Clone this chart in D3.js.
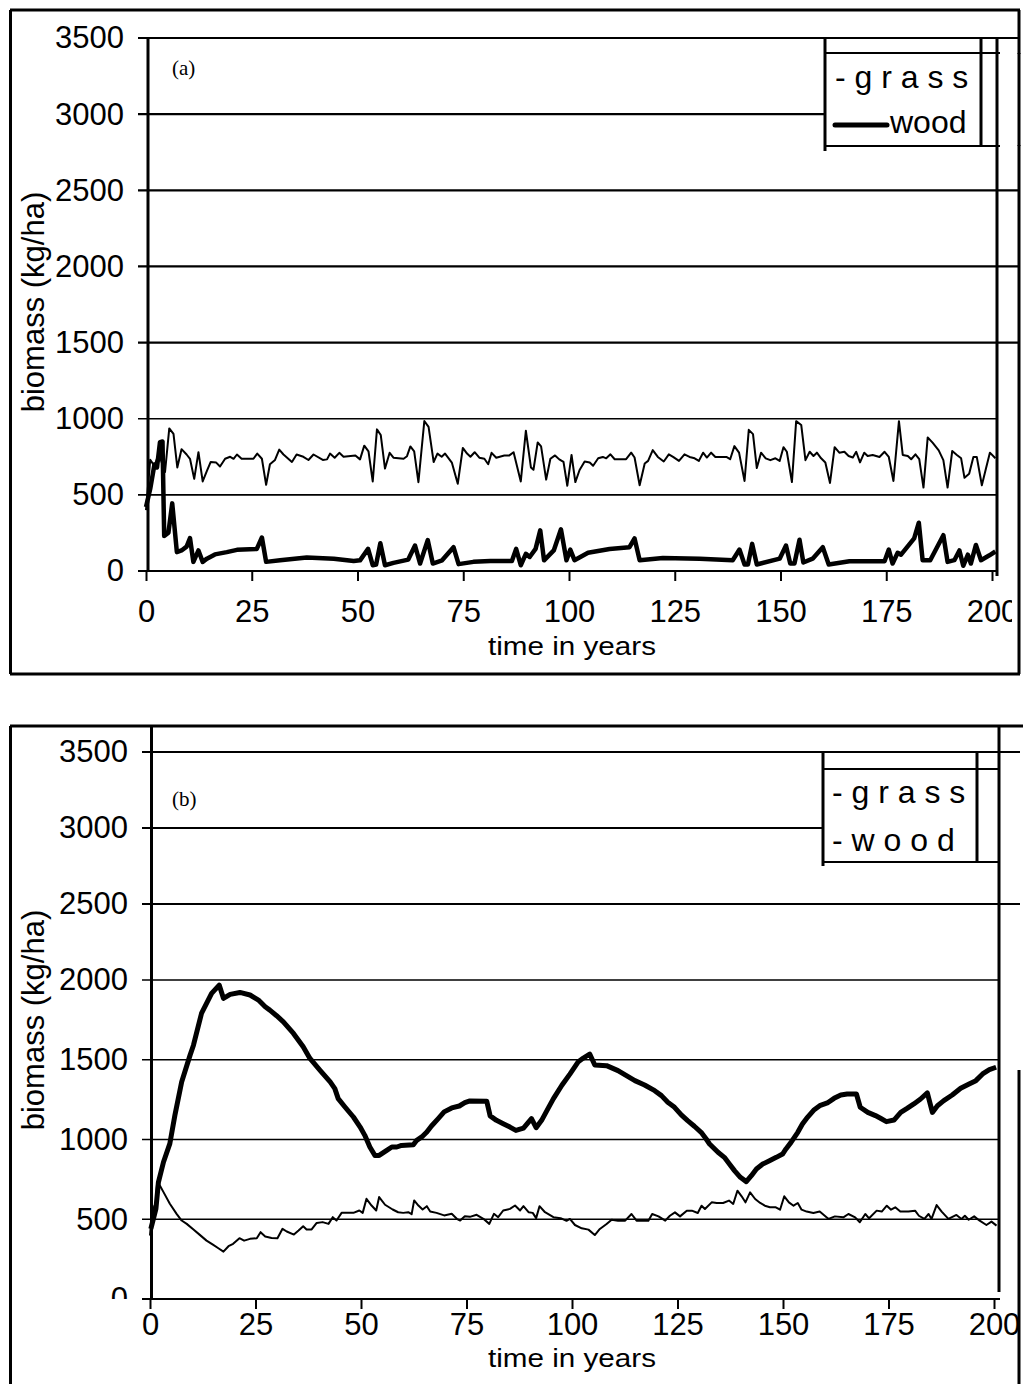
<!DOCTYPE html>
<html>
<head>
<meta charset="utf-8">
<script src="https://cdn.jsdelivr.net/npm/d3@7"></script>
<style>
  html, body { margin: 0; padding: 0; background: #fff; }
  svg { display: block; }
  text { font-family: "Liberation Sans", Arial, Helvetica, sans-serif; fill: #000; }
</style>
</head>
<body>
<svg id="chart" width="1023" height="1384"></svg>
<script>
// ---- tick labels -------------------------------------------------------
const xTicks = [0, 25, 50, 75, 100, 125, 150, 175, 200];
const yTicks = [0, 500, 1000, 1500, 2000, 2500, 3000, 3500];
const legendA = ["- g r a s s", "wood"];
const legendB = ["- g r a s s", "- w o o d"];

// ---- panel (a): [year, biomass kg/ha] ----------------------------------
const grassA = [
  [0,400],[1,730],[2,690],[3,770],[4.5,650],[5.5,936],[6.5,900],[7.4,680],[8.4,800],[9.6,765],
  [10.4,737],[11.4,605],[12.4,780],[13.4,588],[14.4,658],[15.3,716],[16.6,712],[17.5,686],[18.7,737],
  [19.9,750],[20.7,737],[21.5,765],[22.6,737],[25.4,737],[26.3,771],[27.4,737],[28.4,566],[29.3,701],
  [30.5,729],[31.5,797],[32.5,765],[34.5,716],[35.6,765],[37.2,750],[38.4,729],[39.6,765],[41.8,729],
  [42.8,733],[43.5,771],[44.6,744],[45.7,776],[46.7,750],[49.5,759],[50.6,733],[51.6,823],[52.6,786],
  [53.6,588],[54.6,930],[55.5,893],[56.5,673],[57.6,776],[58.5,744],[60.9,737],[61.7,754],[62.5,818],
  [63.4,786],[64.4,583],[65.8,985],[66.8,947],[68,716],[68.9,771],[69.9,750],[70.7,771],[72.3,712],
  [73.7,573],[74.9,808],[75.9,771],[76.7,750],[77.7,780],[78.8,744],[80,737],[80.9,701],[81.7,776],
  [82.8,744],[84.7,759],[85.9,759],[86.9,780],[88.6,588],[89.8,921],[91,680],[91.6,665],[92.6,844],
  [93.4,818],[94.6,600],[95.6,737],[96.7,759],[97.7,733],[98.7,716],[99.6,560],[100.6,762],[101.5,584],
  [102.5,663],[103.7,719],[104.9,713],[105.7,691],[106.9,740],[108,749],[108.8,740],[109.8,766],
  [110.8,734],[113.5,734],[114.7,777],[115.5,745],[116.7,563],[117.9,706],[118.7,723],[119.8,794],
  [121,749],[122.4,719],[123.6,766],[124.6,749],[126,723],[127.3,766],[128.5,749],[129.7,740],
  [130.7,723],[131.7,777],[132.6,745],[133.6,777],[134.6,749],[137.2,749],[138.1,734],[139.1,820],
  [140.2,777],[141.5,591],[142.5,927],[143.5,899],[144.4,676],[145.4,777],[146.5,740],[147.6,728],
  [148.8,740],[149.8,723],[150.7,813],[151.5,783],[152.7,584],[153.7,984],[154.9,959],[155.9,728],
  [156.9,783],[157.8,755],[158.6,777],[159.6,740],[160.6,713],[161.7,578],[162.8,813],[163.9,777],
  [165.1,783],[166.1,755],[167.1,745],[167.9,783],[168.8,713],[169.8,777],[170.6,755],[171.8,762],
  [173.4,749],[174.6,783],[175.6,749],[176.7,591],[178,984],[178.9,762],[180.1,755],[180.9,734],
  [181.9,766],[182.8,734],[183.8,548],[184.8,877],[186,841],[187.4,792],[188.5,728],[189.5,548],
  [190.6,788],[191.7,762],[192.7,740],[193.5,612],[194.6,638],[195.6,749],[196.4,749],[197.6,563],
  [198.6,676],[199.5,777],[200.8,740]
];
const woodA = [
  [0,420],[1,540],[2,700],[2.6,680],[3.3,846],[3.9,850],[4.3,230],[5.3,252],[6.2,444],[7.3,124],
  [8.4,135],[9.6,160],[10.4,216],[11.2,60],[12.4,135],[13.4,60],[14.4,81],[16.3,109],[19.1,124],
  [21.5,139],[26.2,145],[27.4,220],[28.4,60],[31.7,70],[38,88],[44.4,81],[49.1,66],[50.6,70],
  [52.5,145],[53.6,38],[54.4,43],[55.4,182],[56.5,38],[58.5,53],[62,75],[63.6,167],[64.8,49],
  [66.6,203],[67.8,49],[70,70],[72.7,156],[73.9,45],[77.4,60],[81.4,66],[86.5,66],[87.5,145],
  [88.6,38],[89.8,113],[90.7,92],[92.1,145],[93.2,267],[94.1,70],[96.4,135],[98.1,274],[99.4,70],
  [100.3,140],[101.3,71],[104.5,120],[109.6,145],[114.3,156],[115.5,214],[116.7,71],[122.2,86],
  [130.9,81],[138.7,71],[140.3,141],[141.5,43],[142.3,43],[143.3,178],[144.4,43],[149.8,81],
  [151.3,167],[152.3,49],[153.3,49],[154.5,205],[155.4,56],[157.6,81],[160,156],[161.4,43],
  [166.3,64],[174.6,64],[175.6,141],[176.5,49],[177.7,120],[178.5,107],[181.6,214],[182.7,317],
  [183.6,71],[185.4,71],[188.5,235],[189.5,60],[191.1,71],[192.3,135],[193.2,34],[194.3,107],
  [195,49],[196.2,171],[197.4,71],[199.4,103],[200.8,128]
];

// ---- panel (b): [year, biomass kg/ha] ----------------------------------
const grassB = [
  [0,398],[0.6,586],[1.2,534],[1.7,733],[2.4,708],[3.2,670],[4.7,597],[6.3,534],[7.5,492],[8.7,471],
  [10.3,436],[11.8,402],[13.4,366],[15,339],[16.2,318],[17.4,297],[18.6,331],[19.7,346],[21.2,381],
  [22.3,366],[23.7,377],[25.3,381],[26.2,419],[27.3,392],[28.8,383],[30.2,381],[31.4,440],[32.4,423],
  [34.1,404],[35.2,429],[36.3,456],[37.1,436],[38.3,436],[39.5,477],[40.9,482],[42.3,471],[43.3,513],
  [44.2,492],[45.4,540],[47,540],[48.2,540],[49.6,555],[50.4,540],[51.3,628],[52.5,586],[53.6,555],
  [54.3,639],[55.7,591],[57.5,561],[58.8,544],[60,540],[61.2,544],[62,532],[62.6,618],[63.6,586],
  [64.6,561],[65.6,582],[66.4,549],[67.9,540],[69.7,524],[71.5,534],[72.7,503],[73.5,492],[74.6,519],
  [75.8,515],[77.4,528],[79,503],[80.4,471],[81.5,534],[82.5,513],[83.7,555],[85.3,565],[86.5,586],
  [87.7,555],[88.5,582],[89.7,544],[90.7,540],[91.5,507],[92.3,582],[93.6,544],[95.6,513],[97.3,507],
  [98.7,490],[99.5,502],[100.7,464],[102.3,443],[103.9,435],[105.4,401],[106.6,439],[108.2,470],
  [109.4,497],[110.9,491],[112.6,491],[114.1,533],[115.3,491],[116.9,491],[118.1,491],[119,533],
  [120.5,518],[122.1,491],[123.2,522],[124.4,543],[125.6,518],[127.2,554],[128.4,554],[129.8,539],
  [130.7,585],[131.5,564],[133.1,606],[134.3,602],[135.8,602],[137.2,617],[138.2,596],[139.2,679],
  [140.2,644],[141.1,606],[142.2,669],[143.4,627],[144.6,602],[145.7,585],[146.9,575],[148.3,575],
  [149.3,560],[150.3,644],[151.4,606],[152.5,585],[153.5,602],[154.4,560],[155.6,548],[157.2,539],
  [158.7,548],[160.8,502],[162.3,518],[164.3,512],[165.5,533],[167.1,512],[168.2,481],[169.5,533],
  [170.4,506],[172.2,554],[173.4,548],[174.6,585],[175.6,560],[176.6,575],[177.8,548],[179.7,548],
  [181.3,554],[182.2,522],[183.5,502],[184.5,533],[185.2,502],[186.4,589],[187.6,548],[189.2,502],
  [191.1,527],[192.3,502],[193.1,522],[194,497],[195.3,518],[196.6,491],[198.2,464],[199.4,485],
  [200.6,460]
];
const woodB = [
  [0.2,440],[1.4,565],[2,733],[3.2,859],[4.7,974],[5.9,1152],[7.5,1361],[9.5,1529],[10.3,1591],
  [12.2,1790],[14.6,1916],[16.4,1968],[17.4,1885],[19,1910],[21.3,1922],[23.7,1906],[25.7,1874],
  [27.3,1832],[28.4,1811],[30,1776],[31.6,1738],[34,1665],[36.3,1581],[37.9,1508],[40.3,1434],
  [42.7,1361],[43.8,1319],[44.6,1256],[46.2,1204],[48.2,1141],[49.8,1078],[50.9,1026],[52.1,953],
  [53.3,900],[54.3,900],[56.1,932],[57.3,953],[58.5,953],[59.6,963],[62.4,967],[63.2,995],[64.4,1016],
  [65.6,1047],[66.7,1085],[68.3,1131],[69.7,1173],[71.5,1198],[73.3,1210],[74.6,1231],[75.8,1242],
  [79.8,1240],[80.6,1148],[82.1,1120],[83.7,1099],[85.3,1078],[86.7,1057],[88.5,1072],[90.4,1131],
  [91.5,1074],[92.8,1120],[94.4,1198],[95.6,1256],[97.6,1340],[99.5,1410],[101.5,1488],[102.6,1509],
  [104.2,1536],[105.4,1467],[108.2,1463],[110.9,1432],[112.9,1400],[114.9,1369],[117.2,1342],
  [119.6,1306],[121.2,1275],[122.7,1233],[124.3,1202],[125.9,1154],[127.4,1118],[129,1083],
  [130.6,1045],[131.8,1003],[132.6,972],[134.6,920],[136.1,888],[137.3,846],[138.5,805],[139.9,763],
  [141.3,736],[142.5,773],[143.7,815],[145.2,846],[146.8,867],[148.4,888],[149.9,909],[150.7,941],
  [151.9,982],[153.5,1045],[154.6,1097],[155.8,1139],[157.4,1187],[158.7,1212],[160.5,1229],
  [162.1,1258],[163.7,1279],[165.2,1285],[167.4,1285],[168.3,1202],[170.1,1170],[171.9,1150],
  [173.1,1133],[174.5,1112],[176.3,1122],[177.9,1170],[179.4,1195],[181,1223],[182.6,1254],
  [184.2,1292],[185.4,1170],[186.6,1212],[188.1,1244],[190.1,1279],[192.1,1321],[194.1,1348],
  [195.7,1369],[197.3,1411],[198.9,1438],[200.5,1453]
];

const svg = d3.select("#chart");
const BLACK = "#000";

function hline(g, x1, x2, yy, w) {
  g.append("line").attr("x1", x1).attr("x2", x2).attr("y1", yy).attr("y2", yy)
    .attr("stroke", BLACK).attr("stroke-width", w);
}
function vline(g, xx, y1, y2, w) {
  g.append("line").attr("x1", xx).attr("x2", xx).attr("y1", y1).attr("y2", y2)
    .attr("stroke", BLACK).attr("stroke-width", w);
}

function drawPanel(p) {
  const g = svg.append("g");
  const x = d3.scaleLinear().domain([0, 200]).range(p.xRange);
  const y = d3.scaleLinear().domain(p.yDomain).range(p.yRange);
  const y0 = y(0), yTop = y(3500);

  // outer frame
  hline(g, 10, p.frameRight, p.frameTop, 3);
  vline(g, 10.5, p.frameTop, p.frameBottom, 3);
  vline(g, 1019, p.frameRightFrom, p.frameBottom, 3);
  if (p.frameBottom < 1384) hline(g, 10, 1020, p.frameBottom, 3);

  // horizontal gridlines (left part doubles as outward tick marks)
  yTicks.filter(v => v > 0).forEach(v => {
    const long = v >= p.longFrom;
    hline(g, p.tickLeft, long ? 1020 : p.plotRight, y(v), long ? 2.2 : 1.6);
  });

  // legend box, blanking the gridline underneath
  const L = p.legend;
  g.append("rect").attr("x", L.left + 1).attr("y", L.top + 1)
    .attr("width", 1023 - L.left).attr("height", L.bottom - L.top - 2).attr("fill", "#fff");
  if (p.frameRightFrom < L.bottom) vline(g, 1019, L.top, L.bottom, 3);
  vline(g, L.left, yTop, L.leftEnd, 3);
  vline(g, L.inner, yTop, L.bottom, 3);
  hline(g, L.left, L.right, L.top, 2);
  hline(g, L.left, L.right, L.bottom, 2);
  g.append("text").attr("x", L.textX).attr("y", L.row1).attr("font-size", 32).text(L.labels[0]);
  if (L.sample) {
    g.append("line").attr("x1", L.textX).attr("x2", L.textX + 52)
      .attr("y1", L.row2 - 8).attr("y2", L.row2 - 8)
      .attr("stroke", BLACK).attr("stroke-width", 5).attr("stroke-linecap", "round");
    g.append("text").attr("x", L.textX + 55).attr("y", L.row2).attr("font-size", 32).text(L.labels[1]);
  } else {
    g.append("text").attr("x", L.textX).attr("y", L.row2).attr("font-size", 32).text(L.labels[1]);
  }

  // plot borders
  vline(g, p.axisX, p.axisTop, y0 + 1, 3);
  vline(g, p.plotRight, p.rightTop, p.rightBottom, 3);
  hline(g, p.tickLeft, p.plotRight + 1, y0, 2.2);

  // y axis labels
  const clipY = "clipY" + p.id;
  svg.append("clipPath").attr("id", clipY).append("rect")
    .attr("x", 0).attr("y", p.frameTop).attr("width", 200).attr("height", p.yLabelClip - p.frameTop);
  const ya = g.append("g").attr("clip-path", `url(#${clipY})`)
    .append("g").attr("transform", `translate(${p.yLabelRight},0)`)
    .call(d3.axisLeft(y).tickValues(yTicks).tickSize(0).tickPadding(0).tickFormat(d3.format("d")));
  ya.select(".domain").remove();
  ya.selectAll("text").attr("font-size", 31).attr("font-family", null).attr("fill", BLACK);

  // x axis
  const clipX = "clipX" + p.id;
  svg.append("clipPath").attr("id", clipX).append("rect")
    .attr("x", 0).attr("y", 0).attr("width", p.xLabelClip).attr("height", 1384);
  const xa = g.append("g").attr("clip-path", `url(#${clipX})`)
    .append("g").attr("transform", `translate(0,${y0})`)
    .call(d3.axisBottom(x).tickValues(xTicks).tickSize(10).tickPadding(p.xPad));
  xa.select(".domain").remove();
  xa.selectAll(".tick line").attr("stroke", BLACK).attr("stroke-width", 2);
  xa.selectAll("text").attr("font-size", 31).attr("font-family", null).attr("fill", BLACK);

  // axis titles
  g.append("text").attr("transform", `translate(44,${p.yTitleY}) rotate(-90)`)
    .attr("text-anchor", "middle").attr("font-size", 31).text("biomass (kg/ha)");
  g.append("text").attr("x", 488).attr("y", p.xTitleY)
    .attr("font-size", 26).attr("textLength", 168).attr("lengthAdjust", "spacingAndGlyphs")
    .text("time in years");

  // panel tag
  g.append("text").attr("x", 172).attr("y", p.tagY)
    .style("font-family", '"Liberation Serif", "Times New Roman", serif')
    .attr("font-size", 21).text(p.tag);

  // series
  const line = d3.line().x(d => x(d[0])).y(d => y(d[1]));
  g.append("path").datum(p.grass).attr("d", line).attr("fill", "none")
    .attr("stroke", BLACK).attr("stroke-width", 2).attr("stroke-linejoin", "round");
  g.append("path").datum(p.wood).attr("d", line).attr("fill", "none")
    .attr("stroke", BLACK).attr("stroke-width", p.woodWidth).attr("stroke-linejoin", "round");
}

drawPanel({
  id: "a", tag: "(a)", tagY: 75,
  xRange: [146, 992], yDomain: [0, 3500], yRange: [571, 38],
  frameTop: 10, frameBottom: 674, frameRight: 1020, frameRightFrom: 10,
  axisX: 148, axisTop: 38, plotRight: 997, rightTop: 38, rightBottom: 576,
  tickLeft: 138, longFrom: 1500,
  yLabelRight: 124, yLabelClip: 1384, xLabelClip: 1012, xPad: 19,
  yTitleY: 302, xTitleY: 655,
  legend: { left: 825, inner: 981, right: 1000, top: 53, bottom: 146, leftEnd: 151,
            textX: 835, row1: 88, row2: 133, labels: legendA, sample: true },
  grass: grassA, wood: woodA, woodWidth: 4.5
});

drawPanel({
  id: "b", tag: "(b)", tagY: 806,
  xRange: [150, 994], yDomain: [0, 2000, 3500], yRange: [1299, 980, 752],
  frameTop: 726, frameBottom: 1390, frameRight: 1023, frameRightFrom: 1070,
  axisX: 151.5, axisTop: 726, plotRight: 999, rightTop: 726, rightBottom: 1292,
  tickLeft: 142, longFrom: 2500,
  yLabelRight: 128, yLabelClip: 1299, xLabelClip: 1018, xPad: 4,
  yTitleY: 1020, xTitleY: 1367,
  legend: { left: 823, inner: 977, right: 998, top: 769, bottom: 862, leftEnd: 866,
            textX: 832, row1: 803, row2: 851, labels: legendB, sample: false },
  grass: grassB, wood: woodB, woodWidth: 5
});
</script>
</body>
</html>
